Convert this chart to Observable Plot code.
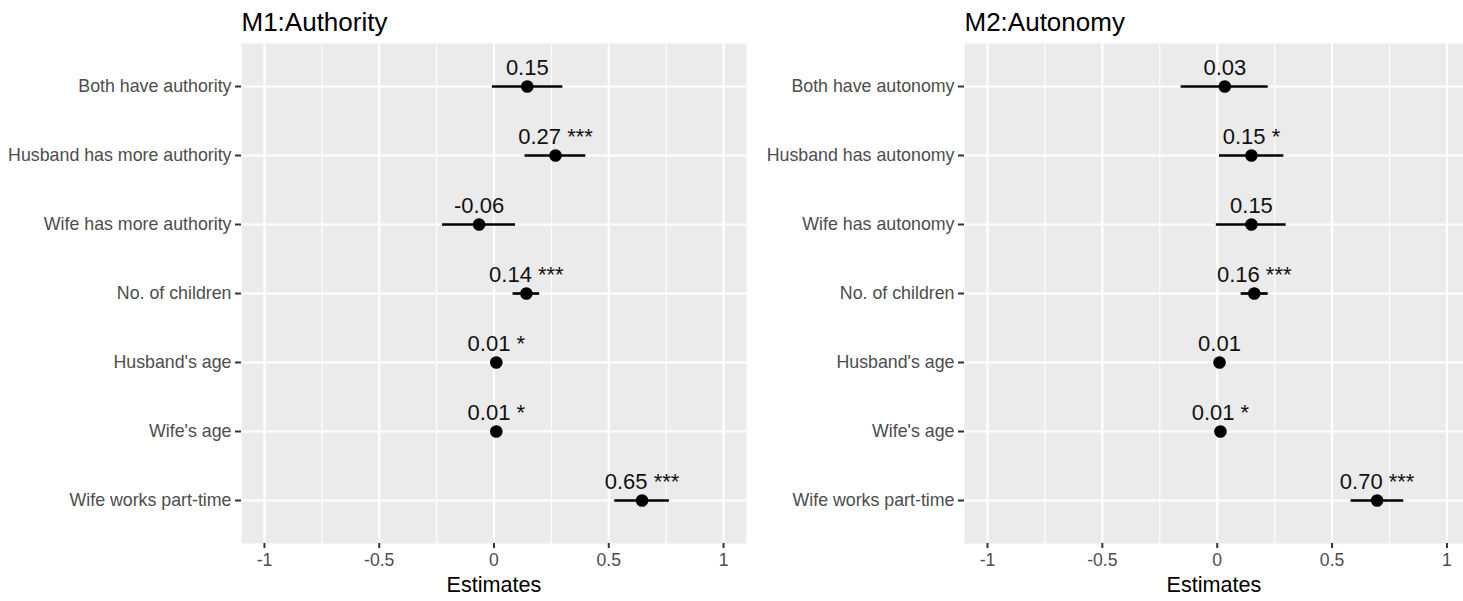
<!DOCTYPE html>
<html>
<head>
<meta charset="utf-8">
<script src="https://cdn.jsdelivr.net/npm/d3@7"></script>
<script src="https://cdn.jsdelivr.net/npm/@observablehq/plot@0.6"></script>
<style>
  html, body { margin: 0; padding: 0; background: #ffffff; overflow: hidden; }
  #wrap { display: flex; flex-direction: row; width: 1463px; height: 601px; }
  svg { display: block; }
</style>
</head>
<body>
<div id="wrap"></div>
<script>
// ---- data ----
const terms1 = ["Both have authority", "Husband has more authority", "Wife has more authority",
  "No. of children", "Husband's age", "Wife's age", "Wife works part-time"];
const est1 = [0.145, 0.268, -0.065, 0.141, 0.01, 0.01, 0.645];
const lo1 = [-0.007, 0.135, -0.224, 0.083, 0.004, 0.004, 0.526];
const hi1 = [0.30, 0.40, 0.094, 0.199, 0.016, 0.016, 0.764];
const labels1 = ["0.15", "0.27 ***", "-0.06", "0.14 ***", "0.01 *", "0.01 *", "0.65 ***"];

const terms2 = ["Both have autonomy", "Husband has autonomy", "Wife has autonomy",
  "No. of children", "Husband's age", "Wife's age", "Wife works part-time"];
const est2 = [0.033, 0.149, 0.149, 0.161, 0.01, 0.014, 0.696];
const lo2 = [-0.157, 0.01, -0.004, 0.104, 0.004, 0.008, 0.583];
const hi2 = [0.222, 0.29, 0.30, 0.222, 0.016, 0.020, 0.812];
const labels2 = ["0.03", "0.15 *", "0.15", "0.16 ***", "0.01", "0.01 *", "0.70 ***"];

const titles = ["M1:Authority", "M2:Autonomy"];
const xTitle = "Estimates";
const majorTicks = [-1, -0.5, 0, 0.5, 1];
const minorTicks = [-0.75, -0.25, 0.25, 0.75];
const tickLabels = ["-1", "-0.5", "0", "0.5", "1"];

const FONT = "'Liberation Sans', Arial, Helvetica, sans-serif";

function panel(terms, est, lo, hi, labels, title, opts) {
  const rows = terms.map((t, i) => ({term: t, est: est[i], lo: lo[i], hi: hi[i], label: labels[i]}));
  return Plot.plot({
    width: opts.width,
    height: 601,
    marginLeft: opts.marginLeft,
    marginRight: opts.marginRight,
    marginTop: 43,
    marginBottom: 58,
    style: {fontFamily: FONT, background: "white", overflow: "visible"},
    x: {domain: opts.domain, label: null, axis: null},
    y: {type: "point", domain: terms, padding: 0.6, label: null, axis: null},
    marks: [
      Plot.frame({fill: "#EBEBEB", stroke: null}),
      Plot.ruleX(minorTicks, {stroke: "white", strokeWidth: 1.1}),
      Plot.ruleX(majorTicks, {stroke: "white", strokeWidth: 2.2}),
      Plot.ruleY(terms, {stroke: "white", strokeWidth: 2.2}),
      Plot.axisY({anchor: "left", tickSize: 6, tickPadding: 4, fontSize: 17.8, color: "#4d4d4d", stroke: "#333333", strokeWidth: 2, label: null}),
      Plot.axisX({anchor: "bottom", ticks: majorTicks, tickFormat: (d) => tickLabels[majorTicks.indexOf(d)], tickSize: 5, tickPadding: 5, fontSize: 17.6, color: "#4d4d4d", stroke: "#333333", strokeWidth: 2, label: null}),
      Plot.ruleY(rows, {y: "term", x1: "lo", x2: "hi", stroke: "black", strokeWidth: 2.7}),
      Plot.dot(rows, {x: "est", y: "term", r: 6.3, fill: "black", stroke: null}),
      Plot.text(rows, {x: "est", y: "term", text: "label", fontSize: 22, fill: "#111111", lineAnchor: "middle", dy: -19, textAnchor: "middle"}),
      Plot.text([title], {frameAnchor: "top-left", text: d => d, fontSize: 26, fill: "black", lineAnchor: "middle", dy: -21.3, textAnchor: "start"}),
      Plot.text([xTitle], {frameAnchor: "bottom", text: d => d, fontSize: 21.6, fill: "black", lineAnchor: "middle", dy: 41.8})
    ]
  });
}

const wrap = document.getElementById("wrap");
wrap.appendChild(panel(terms1, est1, lo1, hi1, labels1, titles[0],
  {width: 760, marginLeft: 241, marginRight: 14, domain: [-1.1, 1.1]}));
wrap.appendChild(panel(terms2, est2, lo2, hi2, labels2, titles[1],
  {width: 703, marginLeft: 204, marginRight: 0, domain: [-1.1, 1.072]}));
</script>
</body>
</html>
